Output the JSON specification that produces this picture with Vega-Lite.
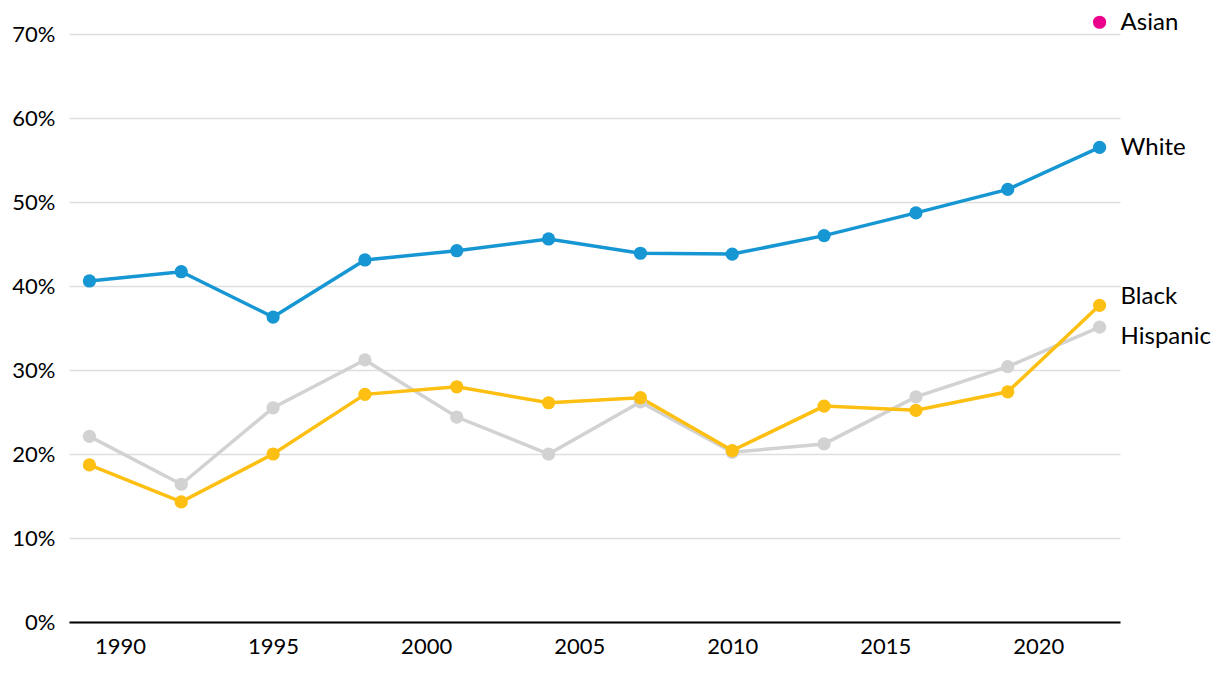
{
  "$schema": "https://vega.github.io/schema/vega-lite/v6.json",
  "autosize": {"type": "none"},
  "width": 1051,
  "height": 588,
  "padding": {"left": 69, "top": 34, "right": 100, "bottom": 52},
  "background": "white",
  "config": {
    "font": "Lato",
    "view": {"stroke": null}
  },
  "data": {
    "values": [
      {"year": 1989, "group": "Hispanic", "value": 0.221},
      {"year": 1992, "group": "Hispanic", "value": 0.164},
      {"year": 1995, "group": "Hispanic", "value": 0.255},
      {"year": 1998, "group": "Hispanic", "value": 0.312},
      {"year": 2001, "group": "Hispanic", "value": 0.244},
      {"year": 2004, "group": "Hispanic", "value": 0.200},
      {"year": 2007, "group": "Hispanic", "value": 0.262},
      {"year": 2010, "group": "Hispanic", "value": 0.202},
      {"year": 2013, "group": "Hispanic", "value": 0.212},
      {"year": 2016, "group": "Hispanic", "value": 0.268},
      {"year": 2019, "group": "Hispanic", "value": 0.304},
      {"year": 2022, "group": "Hispanic", "value": 0.351},
      {"year": 1989, "group": "Black", "value": 0.187},
      {"year": 1992, "group": "Black", "value": 0.143},
      {"year": 1995, "group": "Black", "value": 0.200},
      {"year": 1998, "group": "Black", "value": 0.271},
      {"year": 2001, "group": "Black", "value": 0.280},
      {"year": 2004, "group": "Black", "value": 0.261},
      {"year": 2007, "group": "Black", "value": 0.267},
      {"year": 2010, "group": "Black", "value": 0.204},
      {"year": 2013, "group": "Black", "value": 0.257},
      {"year": 2016, "group": "Black", "value": 0.252},
      {"year": 2019, "group": "Black", "value": 0.274},
      {"year": 2022, "group": "Black", "value": 0.377},
      {"year": 1989, "group": "White", "value": 0.406},
      {"year": 1992, "group": "White", "value": 0.417},
      {"year": 1995, "group": "White", "value": 0.363},
      {"year": 1998, "group": "White", "value": 0.431},
      {"year": 2001, "group": "White", "value": 0.442},
      {"year": 2004, "group": "White", "value": 0.456},
      {"year": 2007, "group": "White", "value": 0.439},
      {"year": 2010, "group": "White", "value": 0.438},
      {"year": 2013, "group": "White", "value": 0.460},
      {"year": 2016, "group": "White", "value": 0.487},
      {"year": 2019, "group": "White", "value": 0.515},
      {"year": 2022, "group": "White", "value": 0.565},
      {"year": 2022, "group": "Asian", "value": 0.714}
    ]
  },
  "encoding": {
    "x": {
      "field": "year",
      "type": "quantitative",
      "scale": {"domain": [1988.333, 2022.667], "nice": false, "zero": false},
      "axis": {
        "title": null,
        "values": [1990, 1995, 2000, 2005, 2010, 2015, 2020],
        "format": "d",
        "grid": false,
        "ticks": false,
        "tickSize": 0,
        "domain": true,
        "domainColor": "#000000",
        "domainWidth": 2,
        "labelFont": "Lato",
        "labelFontSize": 22,
        "labelColor": "#000000",
        "labelPadding": 14
      }
    },
    "y": {
      "field": "value",
      "type": "quantitative",
      "scale": {"domain": [0, 0.7], "nice": false},
      "axis": {
        "title": null,
        "values": [0, 0.1, 0.2, 0.3, 0.4, 0.5, 0.6, 0.7],
        "format": ".0%",
        "grid": true,
        "gridColor": "#dedede",
        "gridWidth": 1.5,
        "ticks": false,
        "tickSize": 0,
        "domain": false,
        "labelFont": "Lato",
        "labelFontSize": 22,
        "labelColor": "#000000",
        "labelPadding": 14
      }
    },
    "color": {
      "field": "group",
      "type": "nominal",
      "scale": {
        "domain": ["Hispanic", "Black", "White", "Asian"],
        "range": ["#d2d2d2", "#fdbf11", "#1696d2", "#ec008b"]
      },
      "legend": null
    }
  },
  "layer": [
    {
      "mark": {"type": "line", "strokeWidth": 3.5},
      "encoding": {"detail": {"field": "group"}}
    },
    {
      "mark": {"type": "point", "filled": true, "opacity": 1, "size": 175}
    },
    {
      "transform": [{"filter": "datum.year == 2022 && (datum.group == 'White' || datum.group == 'Asian')"}],
      "mark": {"type": "text", "align": "left", "baseline": "middle", "dx": 21, "dy": 1, "fontSize": 24, "font": "Lato", "color": "#000000"},
      "encoding": {"text": {"field": "group"}, "color": {"value": "#000000"}}
    },
    {
      "transform": [{"filter": "datum.year == 2022 && datum.group == 'Black'"}],
      "mark": {"type": "text", "align": "left", "baseline": "middle", "dx": 21, "dy": -8, "fontSize": 24, "font": "Lato", "color": "#000000"},
      "encoding": {"text": {"field": "group"}, "color": {"value": "#000000"}}
    },
    {
      "transform": [{"filter": "datum.year == 2022 && datum.group == 'Hispanic'"}],
      "mark": {"type": "text", "align": "left", "baseline": "middle", "dx": 21, "dy": 10, "fontSize": 24, "font": "Lato", "color": "#000000"},
      "encoding": {"text": {"field": "group"}, "color": {"value": "#000000"}}
    }
  ]
}
